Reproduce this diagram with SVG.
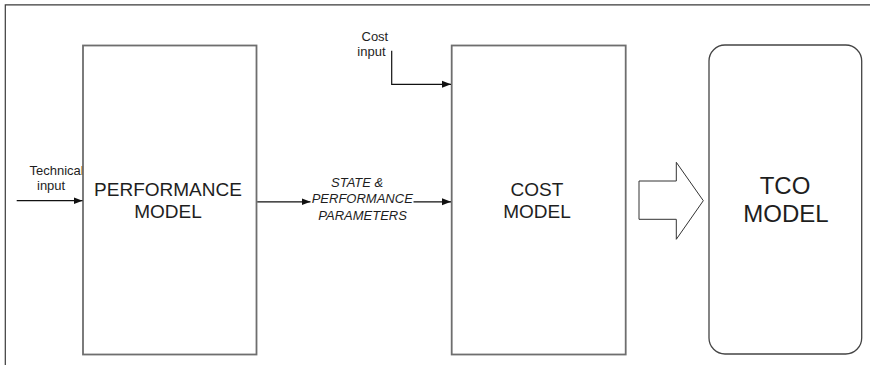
<svg xmlns="http://www.w3.org/2000/svg" width="870" height="365" viewBox="0 0 870 365">
  <defs>
    <marker id="arrowhead" markerWidth="10" markerHeight="8" refX="9" refY="4" orient="auto" markerUnits="userSpaceOnUse">
      <path d="M0,0.5 L9,4 L0,7.5 Z" fill="#111"/>
    </marker>
    <style>
      .frame { fill: none; stroke: #3a3a3a; stroke-width: 1.2; }
      .block { fill: #fff; stroke: #6e6e6e; stroke-width: 1.8; }
      .round { fill: #fff; stroke: #444; stroke-width: 1.3; }
      .conn { fill: none; stroke: #111; stroke-width: 1.2; }
      .big { font-family: "Liberation Sans", Arial, sans-serif; font-size: 19px; fill: #1e1e1e; text-anchor: middle; }
      .huge { font-family: "Liberation Sans", Arial, sans-serif; font-size: 24px; fill: #1e1e1e; text-anchor: middle; }
      .small { font-family: "Liberation Sans", Arial, sans-serif; font-size: 13px; fill: #1e1e1e; }
      .ital { font-family: "Liberation Sans", Arial, sans-serif; font-size: 13px; font-style: italic; fill: #1e1e1e; }
    </style>
  </defs>

  <rect width="870" height="365" fill="#fff"/>

  <!-- outer frame: only top and left edges -->
  <path class="frame" d="M5.3,365 L5.3,4.8 L870,4.8"/>

  <!-- input labels (the last letter of "Technical" runs under the box) -->
  <text class="small" x="29.5" y="175.3">Technical</text>
  <text class="small" x="37" y="190">input</text>
  <text class="small" x="361.5" y="40.7">Cost</text>
  <text class="small" x="357.3" y="56">input</text>

  <g id="performance-model">
    <rect class="block" x="83" y="45.5" width="173.5" height="309"/>
    <text class="big" x="168" y="196">PERFORMANCE</text>
    <text class="big" x="168" y="218">MODEL</text>
  </g>

  <g id="cost-model">
    <rect class="block" x="451.7" y="45.5" width="174" height="309"/>
    <text class="big" x="537" y="196">COST</text>
    <text class="big" x="537" y="218">MODEL</text>
  </g>

  <g id="tco-model">
    <rect class="round" x="709" y="45" width="152.7" height="309" rx="16" ry="16"/>
    <text class="huge" x="785" y="193.5">TCO</text>
    <text class="huge" x="786" y="222.3">MODEL</text>
  </g>

  <g id="parameters-label">
    <text class="ital" x="331" y="186.7">STATE &amp;</text>
    <text class="ital" x="311.7" y="203.3">PERFORMANCE</text>
    <text class="ital" x="318.3" y="220">PARAMETERS</text>
  </g>

  <g id="connectors">
    <line class="conn" x1="16.7" y1="200.7" x2="82.5" y2="200.7" marker-end="url(#arrowhead)"/>
    <polyline class="conn" points="391.7,50.8 391.7,84.3 451,84.3" marker-end="url(#arrowhead)"/>
    <line class="conn" x1="257.3" y1="201.8" x2="310.5" y2="201.8" marker-end="url(#arrowhead)"/>
    <line class="conn" x1="413.5" y1="201.8" x2="451" y2="201.8" marker-end="url(#arrowhead)"/>
    <!-- hollow block arrow into the TCO model -->
    <path d="M639,181 L676.3,181 L676.3,162.3 L703.3,200.7 L676.3,239.3 L676.3,219.3 L639,219.3 Z" fill="#fff" stroke="#333" stroke-width="1"/>
  </g>
</svg>
